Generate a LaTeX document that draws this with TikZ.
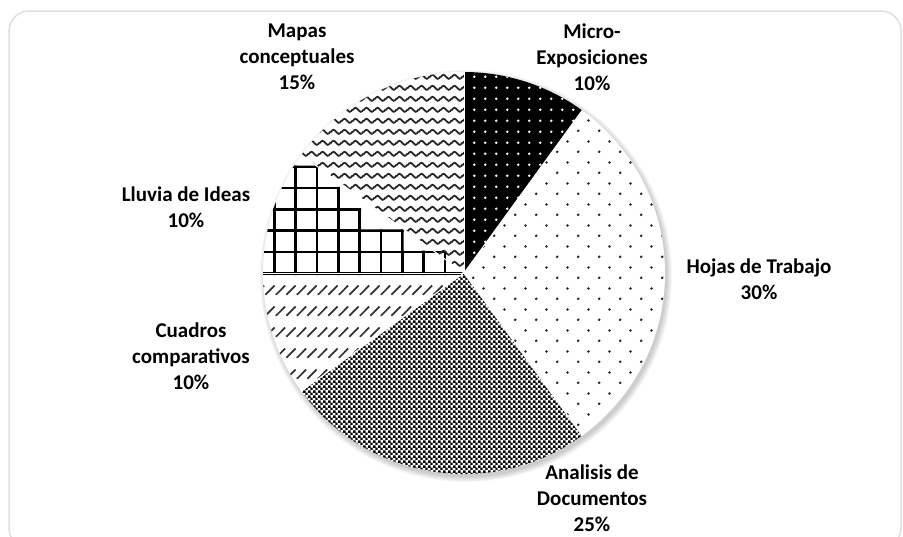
\documentclass[tikz,border=0pt]{standalone}
\usepackage{fontspec}
\setmainfont{Carlito}
\usetikzlibrary{patterns.meta}

% fill patterns of the slices
\tikzdeclarepattern{
  name=microdots, type=uncolored,
  bottom left={(0pt,0pt)}, top right={(10.67pt,10.67pt)},
  tile size={(10.67pt,10.67pt)},
  code={\fill (5.33pt,5.33pt) circle [radius=1.4pt];}
}
\tikzdeclarepattern{
  name=hojasdots, type=uncolored,
  bottom left={(0pt,0pt)}, top right={(21.33pt,21.33pt)},
  tile size={(21.33pt,21.33pt)},
  code={\fill (5.33pt,5.33pt) circle [radius=1.45pt];
        \fill (16pt,16pt) circle [radius=1.45pt];}
}
\tikzdeclarepattern{
  name=docchecker, type=uncolored,
  bottom left={(0pt,0pt)}, top right={(5.33pt,5.33pt)},
  tile size={(5.33pt,5.33pt)},
  code={\fill (0pt,2.5pt) rectangle (2.85pt,5.33pt);
        \fill (2.67pt,0pt) rectangle (5.33pt,2.75pt);}
}
\tikzdeclarepattern{
  name=dashdiag, type=uncolored,
  bottom left={(0pt,0pt)}, top right={(21.33pt,21.33pt)},
  tile size={(21.33pt,21.33pt)},
  code={\foreach \dx in {-10.67,0,10.67,21.33}
          \draw[line width=1.8pt] (\dx pt,9.5pt) -- (\dx pt+9.5pt,19pt);}
}
\tikzdeclarepattern{
  name=mapawave, type=uncolored,
  bottom left={(0pt,0pt)}, top right={(10.67pt,10.67pt)},
  tile size={(10.67pt,10.67pt)},
  code={\draw[line width=1.8pt] (-0.5pt,5.33pt) -- (0pt,5.33pt) sin (2.67pt,7.4pt) cos (5.33pt,5.33pt)
          sin (8pt,3.27pt) cos (10.67pt,5.33pt) -- (11.2pt,5.33pt);}
}

\tikzset{
  lbl/.style={font=\bfseries\fontsize{21}{26}\selectfont, align=center, text=black},
  gridline/.style={black, line width=2.5pt},
  sepline/.style={white, line width=1pt}
}

\begin{document}
\begin{tikzpicture}[x=1pt,y=-1pt]

\useasboundingbox (0,0) rectangle (903,536);

% chart frame
\draw[gray!25, line width=1.5pt, rounded corners=20pt] (9,11) rectangle (901,548);

\coordinate (ctr) at (464,273);

% soft shadow
\foreach \k in {1,...,6}
  \fill[black, opacity=0.035] (466,276) circle [radius=200+\k];

\fill[white] (ctr) circle [radius=201];

% Micro-Exposiciones
\fill[black] (ctr) -- ++(-90:201) arc[start angle=-90, end angle=-54, radius=201] -- cycle;
\fill[pattern=microdots, pattern color=white] (ctr) -- ++(-90:201) arc[start angle=-90, end angle=-54, radius=201] -- cycle;

% Hojas de Trabajo
\fill[pattern=hojasdots, pattern color=black!85] (ctr) -- ++(-54:201) arc[start angle=-54, end angle=54, radius=201] -- cycle;

% Analisis de Documentos
\fill[pattern=docchecker, pattern color=black] (ctr) -- ++(54:201) arc[start angle=54, end angle=144, radius=201] -- cycle;

% Cuadros comparativos
\fill[pattern=dashdiag, pattern color=black!80] (ctr) -- ++(144:201) arc[start angle=144, end angle=180, radius=201] -- cycle;

% Lluvia de Ideas
\begin{scope}
  \clip (ctr) circle [radius=201];
  \clip (250,275) -- (250,165.5) -- (318.5,165.5) -- (318.5,186.8) -- (339.8,186.8)
    -- (339.8,208.1) -- (361.1,208.1) -- (361.1,229.4) -- (403.7,229.4) -- (403.7,250.7)
    -- (446.3,250.7) -- (446.3,271.8) -- (464,271.8) -- (464,275) -- cycle;
  \foreach \gx in {253,274.33,...,446}
    \draw[gridline] (\gx,140) -- (\gx,276);
  \foreach \gy in {145.3,166.63,...,274}
    \draw[gridline] (250,\gy) -- (470,\gy);
\end{scope}

% Mapas conceptuales
\fill[pattern=mapawave, pattern color=black!85] (ctr) -- ++(216:201) arc[start angle=216, end angle=270, radius=201] -- cycle;

% white borders between slices
\foreach \a in {-90,-54,54,144,180,216}
  \draw[sepline] (ctr) -- ++(\a:201);

% labels
\node[lbl] (mapas) at (297,57) {Mapas\\conceptuales\\15\%};
\node[lbl] (micro) at (592,57) {Micro-\\Exposiciones\\10\%};
\node[lbl] (lluvia) at (186,207) {Lluvia de Ideas\\10\%};
\node[lbl] (hojas) at (759,279) {Hojas de Trabajo\\30\%};
\node[lbl] (cuadros) at (191,356) {Cuadros\\comparativos\\10\%};
\node[lbl] (analisis) at (592,498) {Analisis de\\Documentos\\25\%};

\end{tikzpicture}
\end{document}
